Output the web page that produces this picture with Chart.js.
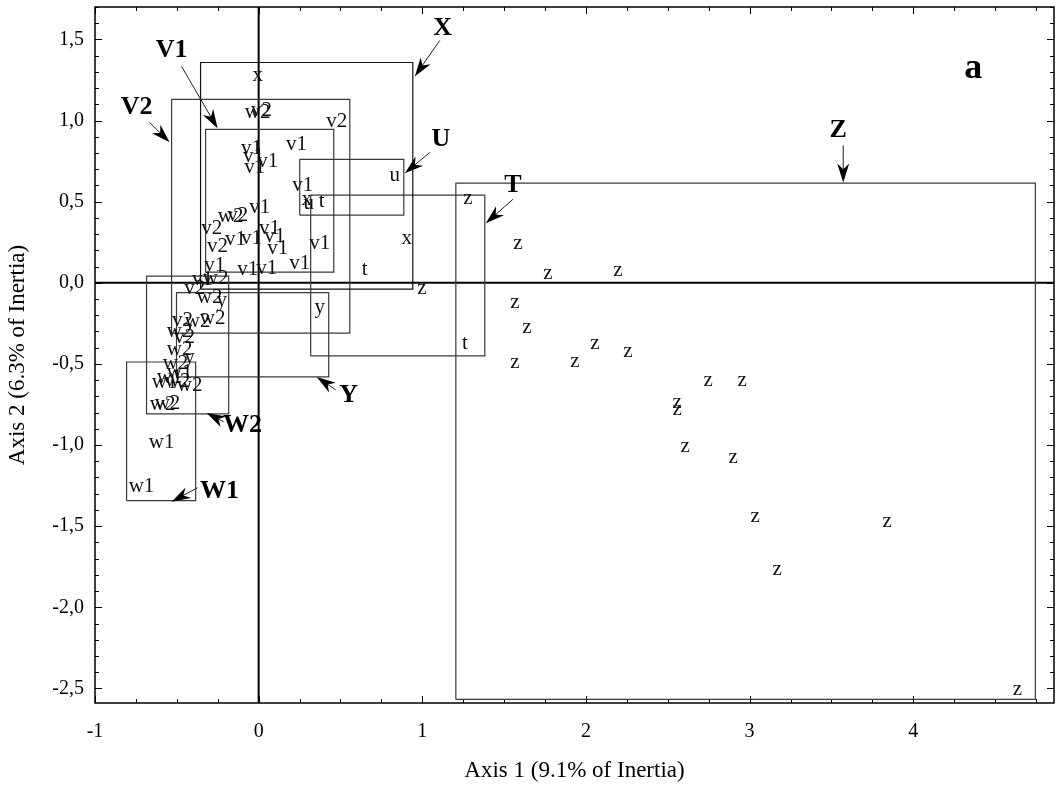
<!DOCTYPE html>
<html>
<head>
<meta charset="utf-8">
<title>Correspondence analysis - axis 1 vs axis 2</title>
<script src="https://cdn.jsdelivr.net/npm/chart.js@4/dist/chart.umd.min.js"></script>
<style>
  html, body { margin: 0; padding: 0; background: #fff; }
  #wrap { width: 1056px; height: 785px; }
</style>
</head>
<body>
<div id="wrap"><canvas id="plot"></canvas></div>
<script>
// Axis ticks
const xTicks = [-1, 0, 1, 2, 3, 4];
const yTicks = [1.5, 1.0, 0.5, 0.0, -0.5, -1.0, -1.5, -2.0, -2.5];

// Point scores, one list per group (axis 1, axis 2)
const zPoints = [
  [0.997, -0.033], [1.278, 0.521], [1.584, 0.244], [1.768, 0.060], [2.196, 0.078],
  [1.566, -0.119], [1.639, -0.273], [2.055, -0.371], [1.933, -0.488], [1.566, -0.494],
  [2.257, -0.426], [2.746, -0.601], [2.954, -0.605], [2.557, -0.740], [2.557, -0.783],
  [2.606, -1.011], [2.899, -1.079], [3.034, -1.442], [3.841, -1.473], [3.168, -1.768],
  [4.636, -2.507]
];
const tPoints = [[0.385, 0.503], [0.648, 0.084], [1.260, -0.371]];
const uPoints = [[0.832, 0.663], [0.306, 0.490]];
const xPoints = [[-0.006, 1.278], [0.905, 0.275], [0.294, 0.514]];
const yPoints = [[0.373, -0.150], [-0.226, -0.106], [-0.422, -0.463]];
const v1Points = [
  [0.232, 0.854], [-0.043, 0.829], [-0.031, 0.780], [0.055, 0.749], [-0.024, 0.712],
  [0.269, 0.601], [0.006, 0.466], [0.067, 0.337], [0.098, 0.287], [-0.141, 0.269],
  [-0.043, 0.275], [0.116, 0.213], [0.373, 0.244], [0.251, 0.121], [-0.269, 0.109],
  [-0.067, 0.084], [0.049, 0.090], [-0.343, 0.023]
];
const v2Points = [
  [0.018, 1.063], [0.477, 0.995], [-0.128, 0.417], [-0.287, 0.337], [-0.251, 0.226],
  [-0.391, -0.033], [-0.465, -0.230], [-0.453, -0.334]
];
const w2Points = [
  [-0.006, 1.050], [-0.171, 0.410], [-0.263, 0.029], [-0.300, -0.088], [-0.373, -0.236],
  [-0.281, -0.217], [-0.483, -0.303], [-0.483, -0.414], [-0.508, -0.500], [-0.495, -0.611],
  [-0.422, -0.630], [-0.587, -0.753], [-0.557, -0.746]
];
const w1Points = [
  [-0.544, -0.586], [-0.575, -0.617], [-0.483, -0.550], [-0.593, -0.986], [-0.716, -1.257]
];

// Group envelopes
const boxNames = ['X', 'V2', 'V1', 'U', 'T', 'Z', 'Y', 'W2', 'W1'];
const boxXMin = [-0.355, -0.532, -0.324, 0.251, 0.318, 1.205, -0.502, -0.685, -0.807];
const boxXMax = [0.942, 0.557, 0.459, 0.887, 1.382, 4.746, 0.428, -0.183, -0.385];
const boxYMin = [-0.039, -0.310, 0.066, 0.417, -0.451, -2.568, -0.580, -0.808, -1.343];
const boxYMax = [1.358, 1.131, 0.946, 0.761, 0.540, 0.614, -0.060, 0.041, -0.488];

// Group call-outs and their arrows
const calloutText = ['X', 'V1', 'V2', 'U', 'T', 'Z', 'Y', 'W2', 'W1'];
const calloutX = [1.125, -0.532, -0.746, 1.113, 1.554, 3.541, 0.550, -0.098, -0.239];
const calloutY = [1.567, 1.432, 1.081, 0.884, 0.601, 0.940, -0.691, -0.876, -1.282];
const arrowFromX = [1.107, -0.471, -0.667, 1.046, 1.554, 3.572, 0.471, -0.214, -0.373];
const arrowFromY = [1.494, 1.334, 0.989, 0.804, 0.515, 0.847, -0.660, -0.857, -1.263];
const arrowToX = [0.954, -0.251, -0.544, 0.893, 1.388, 3.572, 0.355, -0.318, -0.532];
const arrowToY = [1.272, 0.952, 0.866, 0.675, 0.367, 0.618, -0.580, -0.802, -1.349];

const panelLetter = 'a';
const panelPos = [4.367, 1.321];

const SERIF = '"Liberation Serif", "Times New Roman", serif';

function toXY(list) {
  return list.map(p => ({ x: p[0], y: p[1] }));
}

const datasets = [];

// Envelope rectangles, drawn as closed lines
boxNames.forEach((name, i) => {
  datasets.push({
    type: 'line',
    label: 'box ' + name,
    data: [
      { x: boxXMin[i], y: boxYMin[i] },
      { x: boxXMax[i], y: boxYMin[i] },
      { x: boxXMax[i], y: boxYMax[i] },
      { x: boxXMin[i], y: boxYMax[i] },
      { x: boxXMin[i], y: boxYMin[i] }
    ],
    borderColor: name === 'X' ? '#111' : '#3a3a3a',
    borderWidth: 1.2,
    pointRadius: 0,
    fill: false,
    tension: 0
  });
});

// Labelled points
[
  ['z', zPoints], ['t', tPoints], ['u', uPoints], ['x', xPoints], ['y', yPoints],
  ['v1', v1Points], ['v2', v2Points], ['w2', w2Points], ['w1', w1Points]
].forEach(([txt, pts]) => {
  datasets.push({
    type: 'scatter',
    label: txt,
    textLabel: txt,
    data: toXY(pts),
    pointRadius: 0,
    pointHoverRadius: 0
  });
});

// Inward tick marks, zero axes and frame
const framePlugin = {
  id: 'frame',
  beforeDatasetsDraw(chart) {
    const { ctx, chartArea: a, scales } = chart;
    const sx = scales.x, sy = scales.y;
    ctx.save();
    ctx.strokeStyle = '#000';
    ctx.lineWidth = 1;
    ctx.beginPath();
    for (let v = -1; v <= sx.max + 1e-9; v += 0.25) {
      const px = Math.round(sx.getPixelForValue(v)) + 0.5;
      const len = Math.abs(v - Math.round(v)) < 1e-6 ? 7 : 4;
      ctx.moveTo(px, a.bottom); ctx.lineTo(px, a.bottom - len);
      ctx.moveTo(px, a.top); ctx.lineTo(px, a.top + len);
    }
    for (let k = -25; k <= 17; k++) {
      const v = k / 10;
      const py = Math.round(sy.getPixelForValue(v)) + 0.5;
      const len = k % 5 === 0 ? 7 : 4;
      ctx.moveTo(a.left, py); ctx.lineTo(a.left + len, py);
      ctx.moveTo(a.right, py); ctx.lineTo(a.right - len, py);
    }
    ctx.stroke();

    ctx.lineWidth = 2;
    ctx.beginPath();
    const x0 = sx.getPixelForValue(0);
    const y0 = sy.getPixelForValue(0);
    ctx.moveTo(x0, a.top); ctx.lineTo(x0, a.bottom);
    ctx.moveTo(a.left, y0); ctx.lineTo(a.right, y0);
    ctx.stroke();

    ctx.lineWidth = 1.5;
    ctx.strokeRect(a.left, a.top, a.right - a.left, a.bottom - a.top);
    ctx.restore();
  }
};

function drawArrow(ctx, x1, y1, x2, y2) {
  const ang = Math.atan2(y2 - y1, x2 - x1);
  const len = 19, half = 6;
  const c = Math.cos(ang), s = Math.sin(ang);
  ctx.beginPath();
  ctx.moveTo(x1, y1);
  ctx.lineTo(x2 - c * len * 0.6, y2 - s * len * 0.6);
  ctx.stroke();
  ctx.beginPath();
  ctx.moveTo(x2, y2);
  ctx.lineTo(x2 - c * len - s * half, y2 - s * len + c * half);
  ctx.lineTo(x2 - c * len * 0.7, y2 - s * len * 0.7);
  ctx.lineTo(x2 - c * len + s * half, y2 - s * len - c * half);
  ctx.closePath();
  ctx.fill();
}

// Point labels, call-outs and panel letter
const labelPlugin = {
  id: 'labels',
  afterDatasetsDraw(chart) {
    const { ctx, scales } = chart;
    const sx = scales.x, sy = scales.y;
    ctx.save();
    ctx.fillStyle = '#111';
    ctx.textAlign = 'center';
    ctx.textBaseline = 'middle';
    ctx.font = '21px ' + SERIF;
    chart.data.datasets.forEach((ds, i) => {
      if (!ds.textLabel) return;
      chart.getDatasetMeta(i).data.forEach(el => {
        ctx.fillText(ds.textLabel, el.x, el.y);
      });
    });

    ctx.strokeStyle = '#222';
    ctx.fillStyle = '#000';
    ctx.lineWidth = 1;
    calloutText.forEach((txt, i) => {
      drawArrow(ctx,
        sx.getPixelForValue(arrowFromX[i]), sy.getPixelForValue(arrowFromY[i]),
        sx.getPixelForValue(arrowToX[i]), sy.getPixelForValue(arrowToY[i]));
      ctx.font = 'bold 26px ' + SERIF;
      ctx.fillText(txt, sx.getPixelForValue(calloutX[i]), sy.getPixelForValue(calloutY[i]));
    });

    ctx.font = 'bold 36px ' + SERIF;
    ctx.fillText(panelLetter, sx.getPixelForValue(panelPos[0]), sy.getPixelForValue(panelPos[1]));
    ctx.restore();
  }
};

const tickFont = { family: SERIF, size: 20 };

new Chart(document.getElementById('plot'), {
  type: 'scatter',
  data: { datasets: datasets },
  options: {
    responsive: true,
    maintainAspectRatio: false,
    animation: false,
    layout: { padding: { top: 7, right: 2, left: 0, bottom: 0 } },
    plugins: {
      legend: { display: false },
      tooltip: { enabled: false }
    },
    scales: {
      x: {
        type: 'linear',
        min: -1,
        max: 4.86,
        afterBuildTicks: scale => { scale.ticks = xTicks.map(v => ({ value: v })); },
        afterFit: scale => {
          scale.height = 82;
          scale.paddingLeft = 0;
          scale.paddingRight = 0;
        },
        grid: { display: false, drawTicks: false },
        border: { display: false },
        ticks: {
          color: '#000',
          font: tickFont,
          padding: 17,
          maxRotation: 0,
          callback: v => String(v)
        },
        title: {
          display: true,
          text: 'Axis 1 (9.1% of Inertia)',
          color: '#000',
          font: { family: SERIF, size: 23 },
          padding: { top: 0, bottom: 0 }
        }
      },
      y: {
        type: 'linear',
        min: -2.59,
        max: 1.70,
        afterBuildTicks: scale => { scale.ticks = yTicks.map(v => ({ value: v })); },
        afterFit: scale => {
          scale.width = 95;
          scale.paddingTop = 0;
          scale.paddingBottom = 0;
        },
        grid: { display: false, drawTicks: false },
        border: { display: false },
        ticks: {
          color: '#000',
          font: tickFont,
          padding: 11,
          callback: v => Number(v).toFixed(1).replace('.', ',')
        },
        title: {
          display: true,
          text: 'Axis 2 (6.3% of Inertia)',
          color: '#000',
          font: { family: SERIF, size: 23 },
          padding: { top: 4, bottom: 0 }
        }
      }
    }
  },
  plugins: [framePlugin, labelPlugin]
});
</script>
</body>
</html>
